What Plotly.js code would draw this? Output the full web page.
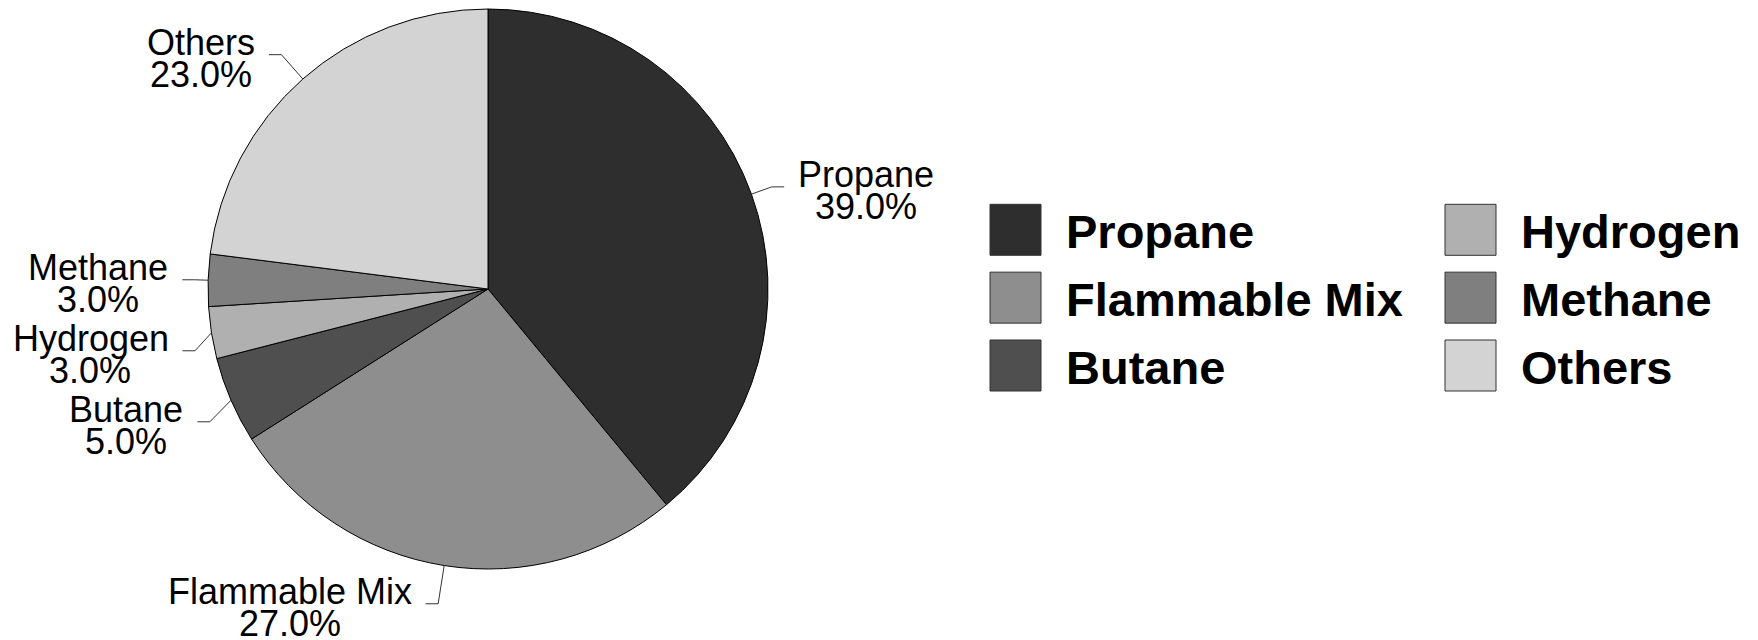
<!DOCTYPE html>
<html>
<head>
<meta charset="utf-8">
<script src="https://cdn.plot.ly/plotly-3.0.1.min.js"></script>
<style>html,body{margin:0;padding:0;background:#fff;}#chart{width:1758px;height:640px;}</style>
</head>
<body>
<div id="chart"></div>
<script>
// ---- data ----
const categories = ['Propane', 'Flammable Mix', 'Butane', 'Hydrogen', 'Methane', 'Others'];
const values = [39, 27, 5, 3, 3, 23];
const colors = ['#2e2e2e', '#8e8e8e', '#4f4f4f', '#b0b0b0', '#7f7f7f', '#d3d3d3'];

// ---- layout geometry ----
const W = 1758, H = 640;
const cx = 488, cy = 289, r = 280;
const FONT = 'Liberation Sans, Arial, sans-serif';
const labelSize = 36, legendSize = 47;
const px = x => x / W;
const py = y => 1 - y / H;

const canvas = document.createElement('canvas');
const ctx = canvas.getContext('2d');
function textWidth(t, size, weight) {
  ctx.font = (weight || 'normal') + ' ' + size + 'px "Liberation Sans", Arial, sans-serif';
  return ctx.measureText(t).width;
}

const total = values.reduce((a, b) => a + b, 0);
let cum = 0;
const lab = categories.map((c, i) => {
  const m = (cum + values[i] / 2) / total;
  cum += values[i];
  const th = 2 * Math.PI * m;
  const s = Math.sin(th), co = Math.cos(th);
  const R = r + 12.5 + 26.5 * Math.abs(co);
  return {i, side: s >= 0 ? 1 : -1, ex: cx + r * s, ey: cy - r * co, bx: cx + R * s, by: cy - R * co};
});
// resolve vertical overlaps per side
[1, -1].forEach(side => {
  const grp = lab.filter(l => l.side === side).sort((a, b) => a.by - b.by);
  for (let k = 1; k < grp.length; k++) {
    if (grp[k].by < grp[k - 1].by + 71) grp[k].by = grp[k - 1].by + 71;
  }
});

const shapes = [];
const annotations = [];
lab.forEach(l => {
  const hx = l.bx + l.side * 12.5;
  const tx = hx + l.side * 14;
  shapes.push({
    type: 'path', xref: 'paper', yref: 'paper',
    path: `M${px(l.ex)},${py(l.ey)} L${px(l.bx)},${py(l.by)} L${px(hx)},${py(l.by)}`,
    line: {color: '#333333', width: 1}
  });
  const name = categories[l.i];
  const pct = (values[l.i] / total * 100).toFixed(1) + '%';
  const bw = Math.max(textWidth(name, labelSize), textWidth(pct, labelSize));
  const base = {xref: 'paper', yref: 'paper', showarrow: false, borderpad: 0, borderwidth: 0,
    font: {family: FONT, size: labelSize, color: '#000'}, yanchor: 'middle'};
  annotations.push(Object.assign({}, base, {
    text: name, x: px(tx), y: py(l.by - 12.5), xanchor: l.side > 0 ? 'left' : 'right'
  }));
  annotations.push(Object.assign({}, base, {
    text: pct, x: px(tx + l.side * bw / 2), y: py(l.by + 32 - 12.5), xanchor: 'center'
  }));
});

// ---- custom two-column legend ----
const legX = [990, 1445], legY0 = 204.3, legPitch = 67.85, box = 51, textOff = 76;
categories.forEach((c, i) => {
  const col = Math.floor(i / 3), row = i % 3;
  const x0 = legX[col], y0 = legY0 + row * legPitch;
  shapes.push({
    type: 'rect', xref: 'paper', yref: 'paper',
    x0: px(x0), x1: px(x0 + box), y0: py(y0), y1: py(y0 + box),
    fillcolor: colors[i], line: {color: '#333333', width: 1}
  });
  annotations.push({
    xref: 'paper', yref: 'paper', showarrow: false, borderpad: 0, borderwidth: 0,
    text: c, x: px(x0 + textOff), y: py(y0 + box / 2 + 2), xanchor: 'left', yanchor: 'middle',
    font: {family: FONT, size: legendSize, color: '#000', weight: 'bold'}
  });
});

const trace = {
  type: 'pie',
  labels: categories,
  values: values,
  sort: false,
  direction: 'clockwise',
  rotation: 0,
  textinfo: 'none',
  showlegend: false,
  marker: {colors: colors, line: {color: '#000000', width: 1}},
  domain: {x: [(cx - r) / W, (cx + r) / W], y: [(H - cy - r) / H, (H - cy + r) / H]}
};

const layout = {
  width: W, height: H,
  margin: {l: 0, r: 0, t: 0, b: 0},
  paper_bgcolor: '#ffffff',
  showlegend: false,
  shapes: shapes,
  annotations: annotations,
  font: {family: FONT}
};

Plotly.newPlot('chart', [trace], layout, {displayModeBar: false, staticPlot: true});
</script>
</body>
</html>
